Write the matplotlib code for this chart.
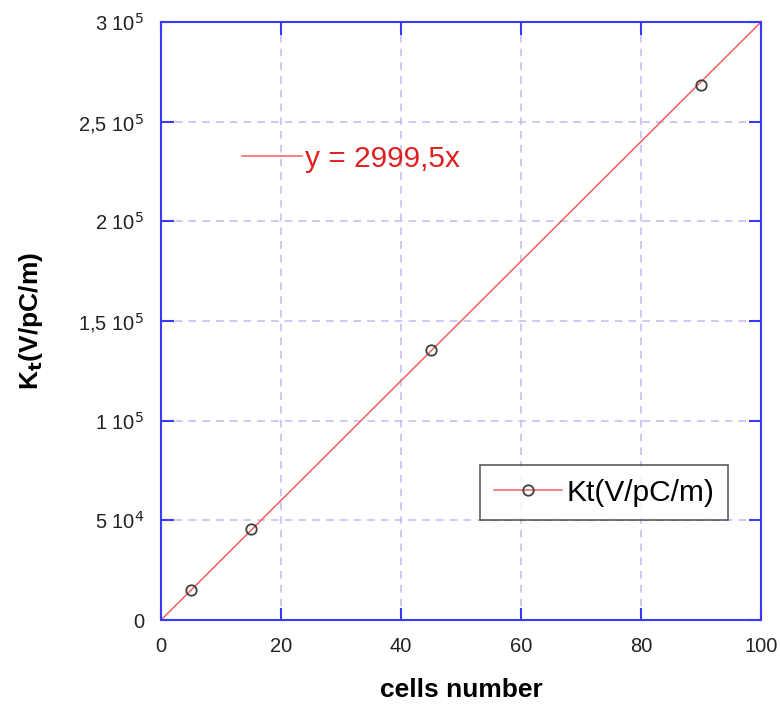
import numpy as np
import matplotlib.pyplot as plt
from matplotlib.lines import Line2D

plt.rcParams['font.family'] = ['Liberation Sans', 'DejaVu Sans']

cells = [5, 15, 45, 90]
kt = [15000, 45700, 135500, 268400]
slope = 2999.5
fit_x = [0, 100]
yticks = [0, 50000, 100000, 150000, 200000, 250000, 300000]
ytick_labels = ['0', '5 10$^4$', '1 10$^5$', '1,5 10$^5$', '2 10$^5$', '2,5 10$^5$', '3 10$^5$']
xticks = [0, 20, 40, 60, 80, 100]

fig = plt.figure(figsize=(7.8, 7.09), dpi=100)
ax = fig.add_axes([0.2064, 0.1255, 0.7692, 0.8435])

blue = '#3a3aff'
ax.grid(True, color='#bcbcf4', linestyle=(0, (5, 4)), linewidth=1.1)
ax.set_axisbelow(True)
for s in ax.spines.values():
    s.set_color(blue)
    s.set_linewidth(1.5)

fit_line, = ax.plot(fit_x, [slope * v for v in fit_x], color='#f06060', lw=1.1)
pts, = ax.plot(cells, kt, linestyle='none', marker='o', markersize=7.5,
               markerfacecolor='none', markeredgecolor='#404040', markeredgewidth=1.3)

ax.set_xlim(0, 100)
ax.set_ylim(0, 300000)
ax.set_xticks(xticks)
ax.set_yticks(yticks)
ax.set_yticklabels(ytick_labels)
ax.tick_params(direction='in', length=9, width=1.5, color=blue, top=True, right=True,
               labelsize=14.5, labelcolor='#222222', pad=12)

ax.set_xlabel('cells number', fontsize=19, fontweight='bold', labelpad=16)
ax.set_ylabel('K$_\\mathbf{t}$(V/pC/m)', fontsize=19, fontweight='bold', labelpad=24)

# legend for data (line + marker)
h = Line2D([], [], color='#f06060', lw=1.1, marker='o', markersize=7.5,
           markerfacecolor='none', markeredgecolor='#404040', markeredgewidth=1.3)
leg = ax.legend([h], ['Kt(V/pC/m)'], loc='lower right', bbox_to_anchor=(0.97, 0.142),
                fontsize=21.5, frameon=True, fancybox=False, handlelength=2.3,
                handletextpad=0.15, borderpad=0.45)
leg.get_frame().set_edgecolor('#333333')
leg.get_frame().set_linewidth(1.2)
ax.add_artist(leg)

# fit equation label
leg2 = ax.legend([fit_line], ['y = 2999,5x'], loc='upper left', bbox_to_anchor=(0.09, 0.84),
                 fontsize=21.5, frameon=False, handlelength=2.0, handletextpad=0.1)
for t in leg2.get_texts():
    t.set_color('#e02020')

fig.savefig('out.png', dpi=100)
